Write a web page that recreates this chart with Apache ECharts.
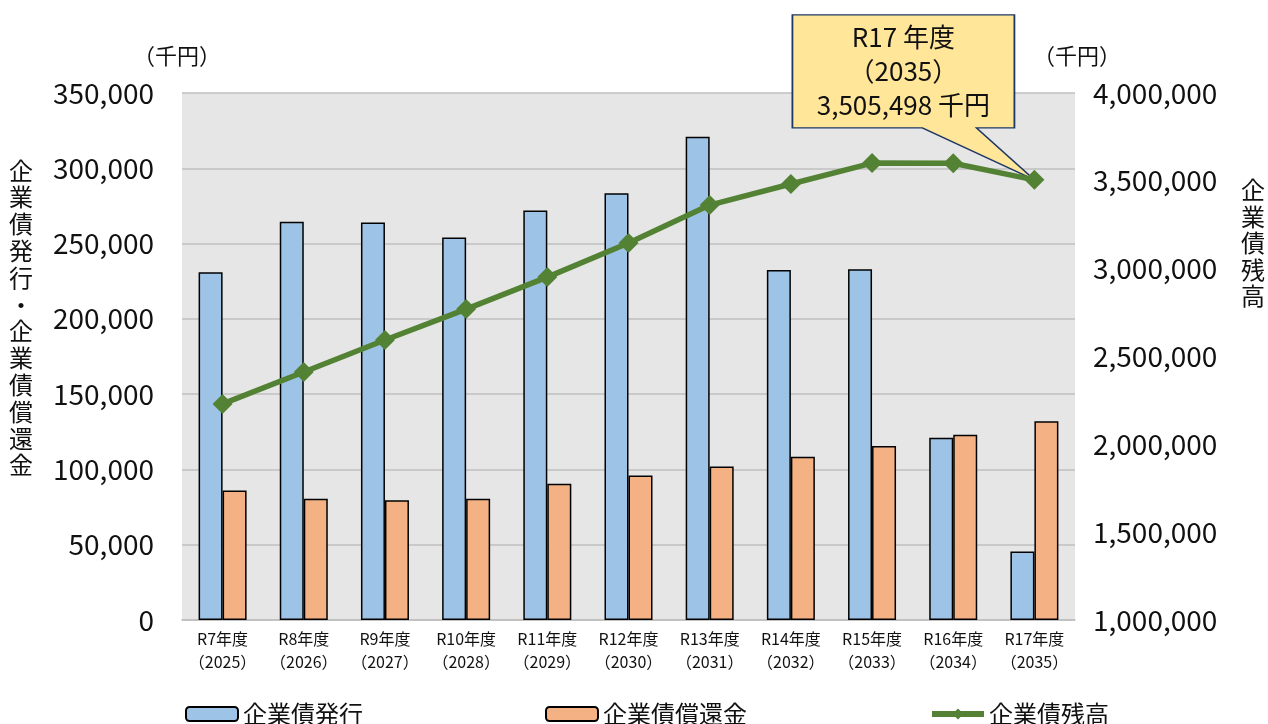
<!DOCTYPE html>
<html>
<head>
<meta charset="utf-8">
<script src="https://cdn.jsdelivr.net/npm/echarts@6/dist/echarts.min.js"></script>
<style>
  html, body { margin: 0; padding: 0; background: #fff; }
  #chart { width: 1268px; height: 724px; }
</style>
</head>
<body>
<div id="chart"></div>
<script>
// data (千円)
const categories = [
  'R7年度\n（2025）', 'R8年度\n（2026）', 'R9年度\n（2027）', 'R10年度\n（2028）',
  'R11年度\n（2029）', 'R12年度\n（2030）', 'R13年度\n（2031）', 'R14年度\n（2032）',
  'R15年度\n（2033）', 'R16年度\n（2034）', 'R17年度\n（2035）'
]
const issueVals = [231000, 264500, 264000, 254000, 272000, 283500, 321000, 232500, 233000, 121000, 45500]
const repayVals = [86000, 80500, 79500, 80500, 90500, 96000, 102000, 108500, 115500, 123000, 132000]
const balanceVals = [2230000, 2412000, 2594000, 2770000, 2952000, 3146000, 3362000, 3482000, 3601000, 3600000, 3505498]
const seriesNames = ['企業債発行', '企業債償還金', '企業債残高']
const calloutText = 'R17 年度\n（2035）\n3,505,498 千円'

const FONT = '"Noto Sans CJK JP", "Noto Sans", sans-serif'
const TXT = '#111'
const GREEN = '#548235'

const fmt = v => v.toLocaleString('en-US')

const myChart = echarts.init(document.getElementById('chart'))
myChart.setOption({
  animation: false,
  textStyle: { fontFamily: FONT, color: TXT },
  grid: {
    left: 182, right: 193, top: 93, bottom: 104,
    show: true, backgroundColor: '#e6e6e6', borderWidth: 0
  },
  legend: {
    left: 180, top: 697,
    itemGap: 182, itemWidth: 52, itemHeight: 14,
    textStyle: { fontSize: 24, color: TXT, fontFamily: FONT },
    data: [
      seriesNames[0],
      seriesNames[1],
      { name: seriesNames[2], lineStyle: { width: 6, color: GREEN }, itemStyle: { color: GREEN } }
    ]
  },
  xAxis: {
    type: 'category',
    data: categories,
    axisTick: { show: false },
    axisLine: { lineStyle: { color: '#bfbfbf', width: 1.5 } },
    axisLabel: { color: TXT, fontSize: 16, lineHeight: 23, margin: 7, interval: 0 }
  },
  yAxis: [
    {
      type: 'value', min: 0, max: 350000, interval: 50000,
      axisLine: { show: false }, axisTick: { show: false },
      splitLine: { lineStyle: { color: '#bfbfbf', width: 1.5 } },
      axisLabel: { color: TXT, fontSize: 28, margin: 28, formatter: fmt }
    },
    {
      type: 'value', min: 1000000, max: 4000000, interval: 500000,
      axisLine: { show: false }, axisTick: { show: false },
      splitLine: { show: false },
      axisLabel: { color: TXT, fontSize: 28, margin: 18, formatter: fmt }
    }
  ],
  graphic: [
    { type: 'text', left: 133, top: 45, style: { text: '（千円）', font: '22px ' + FONT, fill: TXT } },
    { type: 'text', left: 1033, top: 45, style: { text: '（千円）', font: '22px ' + FONT, fill: TXT } },
    {
      type: 'text', left: 9, top: 157,
      style: { text: '企業債発行・企業債償還金'.split('').join('\n'), font: '24px ' + FONT, fill: TXT, lineHeight: 26.8 }
    },
    {
      type: 'text', left: 1241, top: 177,
      style: { text: '企業債残高'.split('').join('\n'), font: '24px ' + FONT, fill: TXT, lineHeight: 26.5 }
    }
  ],
  series: [
    {
      name: seriesNames[0], type: 'bar', data: issueVals,
      barWidth: 24, barGap: '0%',
      itemStyle: { color: '#9dc3e6', borderColor: '#000', borderWidth: 1.5 }
    },
    {
      name: seriesNames[1], type: 'bar', data: repayVals,
      barWidth: 24,
      itemStyle: { color: '#f4b183', borderColor: '#000', borderWidth: 1.5 }
    },
    {
      name: seriesNames[2], type: 'line', yAxisIndex: 1, data: balanceVals,
      symbol: 'diamond', symbolSize: 20,
      lineStyle: { color: GREEN, width: 5.5 },
      itemStyle: { color: GREEN },
      z: 5,
      markPoint: {
        symbol: 'path://M0 0 L222 0 L222 113 L184 113 L242 165 L130 113 L0 113 Z',
        symbolSize: [242, 165],
        symbolKeepAspect: false,
        symbolOffset: [-121, -82.5],
        itemStyle: { color: '#ffe699', borderColor: '#1f3864', borderWidth: 1.5 },
        label: {
          show: true, position: 'inside', offset: [-10, -26],
          formatter: calloutText,
          color: TXT, fontSize: 26, lineHeight: 34, fontFamily: FONT
        },
        data: [{ coord: [categories.length - 1, balanceVals[balanceVals.length - 1]] }]
      }
    }
  ]
})
</script>
</body>
</html>
